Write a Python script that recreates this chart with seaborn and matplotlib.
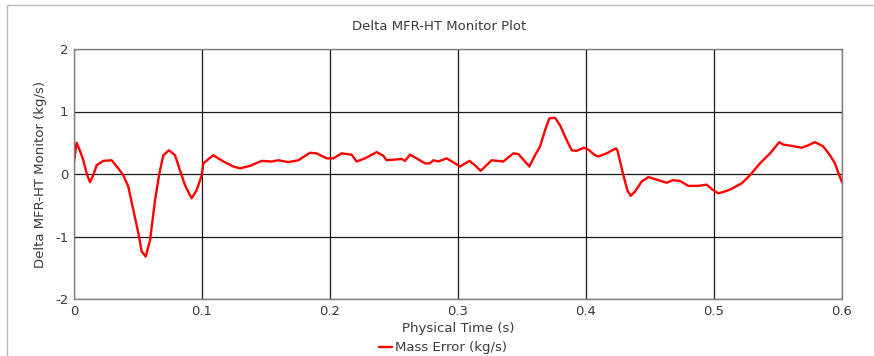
import matplotlib
matplotlib.use("Agg")
import matplotlib.pyplot as plt
from matplotlib.patches import Rectangle
from matplotlib.ticker import MultipleLocator
import seaborn as sns
import pandas as pd

# Monitor samples: physical time (s) and mass error (kg/s)
time_s = [
    0.0000, 0.0020, 0.0045, 0.0073, 0.0100, 0.0125, 0.0150, 0.0177, 0.0229, 0.0294,
    0.0346, 0.0385, 0.0424, 0.0464, 0.0503, 0.0529, 0.0560, 0.0594, 0.0633, 0.0667,
    0.0698, 0.0742, 0.0789, 0.0828, 0.0867, 0.0919, 0.0958, 0.0998, 0.1010, 0.1088,
    0.1167, 0.1245, 0.1297, 0.1375, 0.1466, 0.1544, 0.1596, 0.1674, 0.1752, 0.1844,
    0.1896, 0.1974, 0.2026, 0.2091, 0.2169, 0.2208, 0.2273, 0.2365, 0.2417, 0.2443,
    0.2560, 0.2586, 0.2625, 0.2677, 0.2742, 0.2781, 0.2807, 0.2846, 0.2911, 0.2977,
    0.3016, 0.3089, 0.3133, 0.3177, 0.3263, 0.3354, 0.3432, 0.3471, 0.3523, 0.3557,
    0.3602, 0.3641, 0.3680, 0.3714, 0.3758, 0.3797, 0.3836, 0.3888, 0.3927, 0.3984,
    0.4018, 0.4070, 0.4096, 0.4161, 0.4234, 0.4245, 0.4292, 0.4323, 0.4349, 0.4383,
    0.4435, 0.4487, 0.4552, 0.4630, 0.4677, 0.4734, 0.4799, 0.4877, 0.4943, 0.4982,
    0.5034, 0.5099, 0.5125, 0.5216, 0.5281, 0.5359, 0.5438, 0.5510, 0.5542, 0.5607,
    0.5685, 0.5737, 0.5789, 0.5854, 0.5906, 0.5945, 0.5971, 0.6000,
]
mass_error = [
    0.20, 0.50, 0.38, 0.22, 0.00, -0.13, -0.02, 0.14, 0.21, 0.22,
    0.09, -0.02, -0.20, -0.58, -0.95, -1.24, -1.32, -1.06, -0.42, 0.01,
    0.30, 0.38, 0.30, 0.06, -0.18, -0.39, -0.26, -0.02, 0.17, 0.30,
    0.20, 0.12, 0.09, 0.13, 0.21, 0.20, 0.22, 0.19, 0.22, 0.34,
    0.33, 0.25, 0.25, 0.33, 0.31, 0.20, 0.25, 0.35, 0.29, 0.22,
    0.24, 0.21, 0.31, 0.25, 0.17, 0.17, 0.22, 0.20, 0.25, 0.17,
    0.12, 0.21, 0.14, 0.05, 0.22, 0.20, 0.33, 0.32, 0.20, 0.12,
    0.30, 0.44, 0.70, 0.89, 0.90, 0.78, 0.60, 0.38, 0.37, 0.42,
    0.39, 0.30, 0.28, 0.33, 0.41, 0.38, -0.02, -0.26, -0.35, -0.28,
    -0.12, -0.05, -0.09, -0.14, -0.10, -0.11, -0.19, -0.19, -0.17, -0.24,
    -0.31, -0.27, -0.25, -0.15, -0.02, 0.17, 0.33, 0.51, 0.47, 0.45,
    0.42, 0.46, 0.51, 0.44, 0.30, 0.17, 0.02, -0.13,
]

x_ticks = [0.0, 0.1, 0.2, 0.3, 0.4, 0.5, 0.6]
x_tick_labels = ["0", "0.1", "0.2", "0.3", "0.4", "0.5", "0.6"]
y_ticks = [-2, -1, 0, 1, 2]
y_tick_labels = ["-2", "-1", "0", "1", "2"]

series_name = "Mass Error (kg/s)"
df = pd.DataFrame({"Physical Time (s)": time_s, series_name: mass_error})

sns.set_style("white")
plt.rcParams["font.family"] = ["DejaVu Sans"]
plt.rcParams["axes.unicode_minus"] = False

text_color = "#3a3a3a"
fig = plt.figure(figsize=(8.74, 3.56), dpi=100)
ax = fig.add_axes([74 / 874, 1 - 299 / 356, 768 / 874, 250 / 356])

# light outer frame of the plot panel
fig.patches.append(Rectangle((7 / 874, -0.1), 1.2, (356 - 5) / 356 + 0.1,
                             transform=fig.transFigure, fill=False,
                             edgecolor="#b8b8b8", linewidth=1.0))

sns.lineplot(data=df, x="Physical Time (s)", y=series_name, ax=ax,
             color="#ff0000", linewidth=1.7, sort=False, estimator=None,
             label=series_name, legend=False)

ax.set_xlim(0, 0.6)
ax.set_ylim(-2, 2)
ax.set_xticks(x_ticks)
ax.set_xticklabels(x_tick_labels)
ax.set_yticks(y_ticks)
ax.set_yticklabels(y_tick_labels)
ax.xaxis.set_minor_locator(MultipleLocator(0.05))
ax.yaxis.set_minor_locator(MultipleLocator(0.5))

ax.grid(True, which="major", color="#1a1a1a", linewidth=0.9)
for s in ax.spines.values():
    s.set_color("#808080")
    s.set_linewidth(1.0)

ax.tick_params(which="major", length=0, pad=4, labelsize=9.5, labelcolor=text_color)
ax.tick_params(which="minor", direction="inout", length=4, width=0.9, color="#555555")

ax.set_xlabel("Physical Time (s)", fontsize=9.5, color=text_color, labelpad=3)
ax.set_ylabel("Delta MFR-HT Monitor (kg/s)", fontsize=9.5, color=text_color, labelpad=6)

fig.text(0.503, 1 - 26 / 356, "Delta MFR-HT Monitor Plot", ha="center", va="center",
         fontsize=9.5, color=text_color)

handles, labels = ax.get_legend_handles_labels()
fig.legend(handles, labels, loc="center", bbox_to_anchor=(0.507, 1 - 348 / 356),
           frameon=False, fontsize=9.5, handlelength=1.0, handletextpad=0.2,
           labelcolor=text_color)

fig.savefig("out.png", dpi=100)
